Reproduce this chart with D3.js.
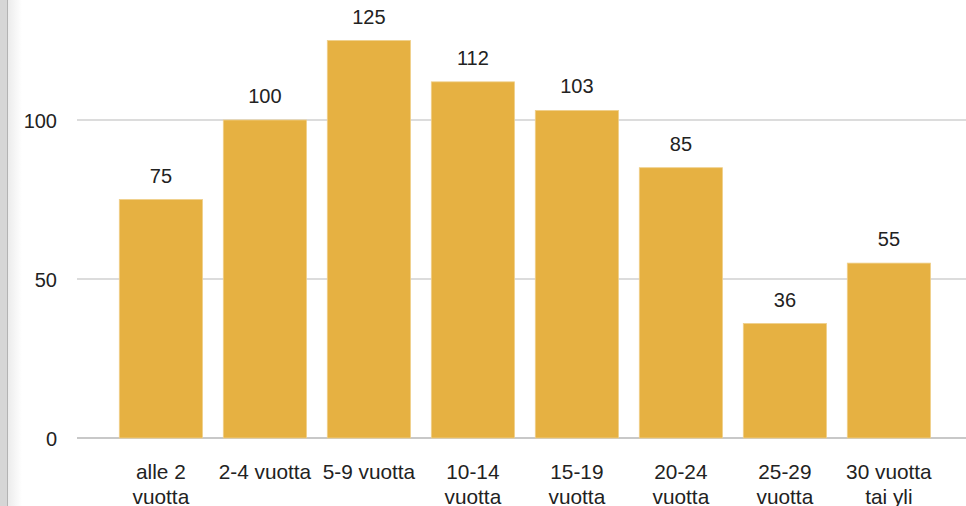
<!DOCTYPE html>
<html>
<head>
<meta charset="utf-8">
<script src="https://cdn.jsdelivr.net/npm/d3@7"></script>
<style>
  html, body { margin: 0; padding: 0; background: #fff; }
  svg { display: block; }
  text { font-family: "Liberation Sans", Arial, sans-serif; fill: #222; }
</style>
</head>
<body>
<svg id="chart" width="966" height="506"></svg>
<script>
const categories = [
  ["alle 2", "vuotta"],
  ["2-4 vuotta"],
  ["5-9 vuotta"],
  ["10-14", "vuotta"],
  ["15-19", "vuotta"],
  ["20-24", "vuotta"],
  ["25-29", "vuotta"],
  ["30 vuotta", "tai yli"]
];
const values = [75, 100, 125, 112, 103, 85, 36, 55];
const yTicks = [0, 50, 100];

const svg = d3.select("#chart");
const W = 966, H = 506;

// left frame band
const defs = svg.append("defs");
const grad = defs.append("linearGradient").attr("id", "shade").attr("x1", 0).attr("x2", 1);
grad.append("stop").attr("offset", 0).attr("stop-color", "#ececec");
grad.append("stop").attr("offset", 1).attr("stop-color", "#ffffff");
svg.append("rect").attr("x", 0).attr("y", 0).attr("width", 7).attr("height", H).attr("fill", "#d6d6d6");
svg.append("rect").attr("x", 7).attr("y", 0).attr("width", 1).attr("height", H).attr("fill", "#b3b3b3");
svg.append("rect").attr("x", 8).attr("y", 0).attr("width", 14).attr("height", H).attr("fill", "url(#shade)");

const keys = categories.map(c => c.join(" "));
const x = d3.scaleBand().domain(keys).range([98.5, 951.3]).paddingInner(0.2).paddingOuter(0.2);
const y = d3.scaleLinear().domain([0, 130]).range([438, 438 - 3.18 * 130]);

// gridlines
svg.append("g").selectAll("line").data(yTicks).join("line")
  .attr("x1", 77).attr("x2", W)
  .attr("y1", d => y(d)).attr("y2", d => y(d))
  .attr("stroke", d => d === 0 ? "#c8c8c8" : "#d0d0d0")
  .attr("stroke-width", d => d === 0 ? 2 : 1.5);

// y axis labels
const yAxis = d3.axisLeft(y).tickValues(yTicks).tickSize(0).tickPadding(0);
const gy = svg.append("g").attr("transform", "translate(57,0)").call(yAxis);
gy.select(".domain").remove();
gy.selectAll("text").attr("font-size", 20).style("font-family", '"Liberation Sans", Arial, sans-serif').attr("fill", "#222").attr("dy", "0.35em");

// bars
svg.append("g").selectAll("rect").data(values).join("rect")
  .attr("x", (d, i) => x(keys[i]))
  .attr("width", x.bandwidth())
  .attr("y", d => y(d))
  .attr("height", d => y(0) - y(d))
  .attr("fill", "#e6b142")
  .attr("stroke", "#efcf8a")
  .attr("stroke-width", 0.8);

// value labels
svg.append("g").selectAll("text").data(values).join("text")
  .attr("x", (d, i) => x(keys[i]) + x.bandwidth() / 2)
  .attr("y", d => y(d) - 17)
  .attr("text-anchor", "middle")
  .attr("font-size", 20)
  .text(d => d);

// x labels
const xl = svg.append("g").selectAll("text").data(categories).join("text")
  .attr("x", (d, i) => x(keys[i]) + x.bandwidth() / 2)
  .attr("y", 479)
  .attr("text-anchor", "middle")
  .attr("font-size", 20.8);
xl.selectAll("tspan").data(d => d).join("tspan")
  .attr("x", function() { return d3.select(this.parentNode).attr("x"); })
  .attr("dy", (d, i) => i === 0 ? 0 : 24.5)
  .text(d => d);
</script>
</body>
</html>
